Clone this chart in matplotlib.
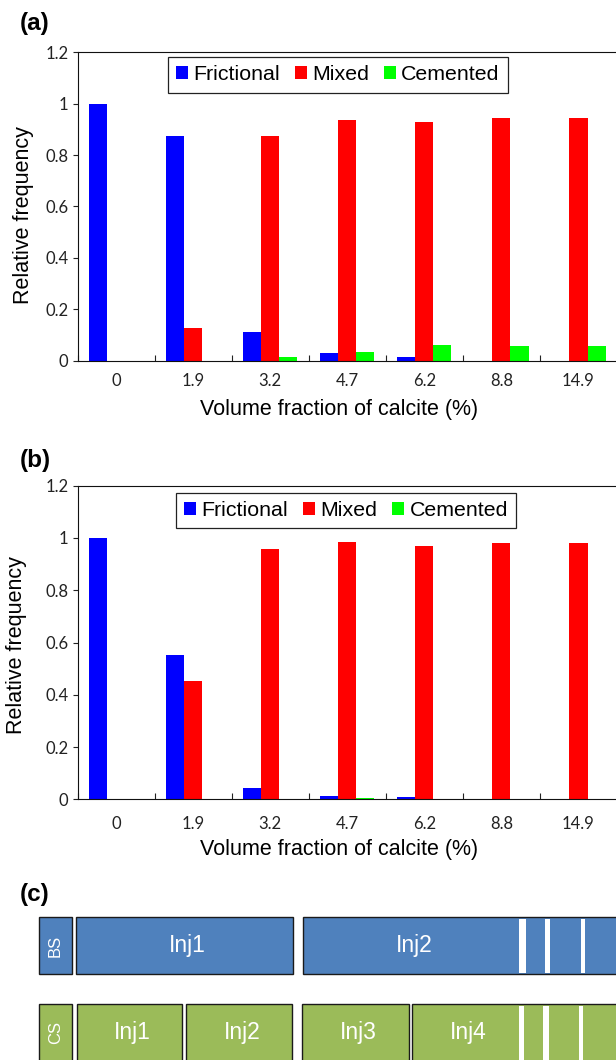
import numpy as np
import matplotlib
matplotlib.use("Agg")
import matplotlib.pyplot as plt
from matplotlib.patches import Rectangle

plt.rcParams['font.family'] = ['Liberation Sans', 'DejaVu Sans']

W, H = 616, 1060

# categories (volume fraction of calcite, %)
categories = ["0", "1.9", "3.2", "4.7", "6.2", "8.8", "14.9"]
series = ["Frictional", "Mixed", "Cemented"]
colors = ["#0000FF", "#FF0000", "#00FF00"]

# panel (a)
frictional_a = [1.0, 0.875, 0.113, 0.031, 0.014, 0.0, 0.0]
mixed_a = [0.0, 0.126, 0.873, 0.938, 0.929, 0.944, 0.945]
cemented_a = [0.0, 0.0, 0.015, 0.033, 0.060, 0.058, 0.056]

# panel (b)
frictional_b = [1.0, 0.551, 0.042, 0.012, 0.008, 0.0, 0.0]
mixed_b = [0.0, 0.451, 0.959, 0.986, 0.971, 0.981, 0.981]
cemented_b = [0.0, 0.0, 0.0, 0.004, 0.003, 0.003, 0.0]

yticks = [0, 0.2, 0.4, 0.6, 0.8, 1, 1.2]

# panel (c) schematic: row names, segment names and extents along the sample
row_names = ["BS", "CS"]
row_colors = ["#4F81BD", "#9BBB59"]
bs_names = ["Inj1", "Inj2"]
bs_spans = [(76.3, 292.7), (302.7, 519.0)]
bs_tail = [(525.5, 544.5), (549.5, 581.0), (584.5, 640.0)]
cs_names = ["Inj1", "Inj2", "Inj3", "Inj4"]
cs_spans = [(77.0, 182.0), (186.3, 291.7), (301.7, 409.0), (412.3, 519.0)]
cs_tail = [(523.5, 542.5), (548.5, 579.0), (582.5, 640.0)]

fig = plt.figure(figsize=(W / 100, H / 100), dpi=100)


def px_axes(left, top, right, bottom):
    return fig.add_axes([left / W, 1 - bottom / H, (right - left) / W, (bottom - top) / H])


def draw_panel(box, values, legend_at, xpad, ylab_at, xlab_at):
    left, top, right, bottom = box
    ax = px_axes(left, top, right, bottom)
    x = np.arange(len(categories))
    w = 0.235
    for k, (vals, name, col) in enumerate(zip(values, series, colors)):
        ax.bar(x + (k - 1) * w, vals, width=w, color=col, linewidth=0, label=name)
    ax.set_xlim(-0.5, len(categories) - 0.5)
    ax.set_ylim(0, 1.2)
    ax.set_yticks(yticks)
    ax.set_yticklabels([f"{v:g}" for v in yticks])
    ax.set_xticks(x)
    ax.set_xticklabels(categories)
    ax.set_xticks(np.arange(len(categories) + 1) - 0.5, minor=True)
    ax.tick_params(axis='y', direction='out', length=3.6, width=0.8, pad=3,
                   labelsize=12, labelfontfamily='Lato', colors='#222222')
    ax.tick_params(axis='x', which='major', length=0, pad=xpad,
                   labelsize=12, labelfontfamily='Lato', colors='#222222')
    ax.tick_params(axis='x', which='minor', direction='in', length=4.3, width=0.8,
                   color='#222222')
    for s in ax.spines.values():
        s.set_linewidth(0.8)
        s.set_color('#111111')

    ax.set_ylabel("Relative frequency", fontsize=15.5, va='center')
    ax.yaxis.set_label_coords((ylab_at[0] - left) / (right - left),
                              (bottom - ylab_at[1]) / (bottom - top))
    ax.set_xlabel("Volume fraction of calcite (%)", fontsize=15.5, va='center')
    ax.xaxis.set_label_coords((xlab_at[0] - left) / (right - left),
                              (bottom - xlab_at[1]) / (bottom - top))

    leg = ax.legend(ncol=3, loc='upper left',
                    bbox_to_anchor=(legend_at[0] / W, 1 - legend_at[1] / H),
                    bbox_transform=fig.transFigure, borderaxespad=0,
                    fontsize=15.4, fancybox=False, framealpha=1,
                    edgecolor='#222222', handlelength=0.56, handleheight=0.56,
                    handletextpad=0.25, columnspacing=0.7, borderpad=0.38)
    leg.get_frame().set_linewidth(0.9)
    return ax


draw_panel((77.5, 52.3, 617, 360.7), [frictional_a, mixed_a, cemented_a],
           (167.7, 57.3), 8.5, (23.3, 214.7), (339, 409.7))
draw_panel((77.5, 485.7, 617, 799.3), [frictional_b, mixed_b, cemented_b],
           (176, 492.7), 12, (16.7, 645.3), (339, 849))

# overlay in pixel coordinates for panel letters and the schematic
ov = fig.add_axes([0, 0, 1, 1])
ov.set_xlim(0, W)
ov.set_ylim(H, 0)
ov.axis('off')

for lab, yc in [("(a)", 23.3), ("(b)", 461), ("(c)", 895)]:
    ov.text(20, yc, lab, fontsize=17.5, fontweight='bold', ha='left', va='center')

rows = [(917.3, bs_names, bs_spans, bs_tail), (1004.3, cs_names, cs_spans, cs_tail)]
h = 57
for (y0, names, spans, tail), rname, fc in zip(rows, row_names, row_colors):
    ov.add_patch(Rectangle((39, y0), 33, h, facecolor=fc, edgecolor='#1a1a1a', linewidth=1.0))
    ov.text(55.5, y0 + h / 2, rname, rotation=90, color='white', fontsize=12,
            ha='center', va='center')
    for i, (name, (x0, x1)) in enumerate(zip(names, spans)):
        end = tail[-1][1] if i == len(names) - 1 else x1
        ov.add_patch(Rectangle((x0, y0), end - x0, h, facecolor=fc,
                               edgecolor='#1a1a1a', linewidth=1.0))
        ov.text((x0 + x1) / 2 + 3, y0 + h / 2, name, color='white', fontsize=16.5,
                ha='center', va='center')
    # white gaps between the short trailing segments
    prev = spans[-1][1]
    for (a, b) in tail:
        ov.add_patch(Rectangle((prev, y0 + 1.5), a - prev, h - 3, facecolor='white',
                               edgecolor='none'))
        prev = b

fig.savefig("out.png", dpi=100)
